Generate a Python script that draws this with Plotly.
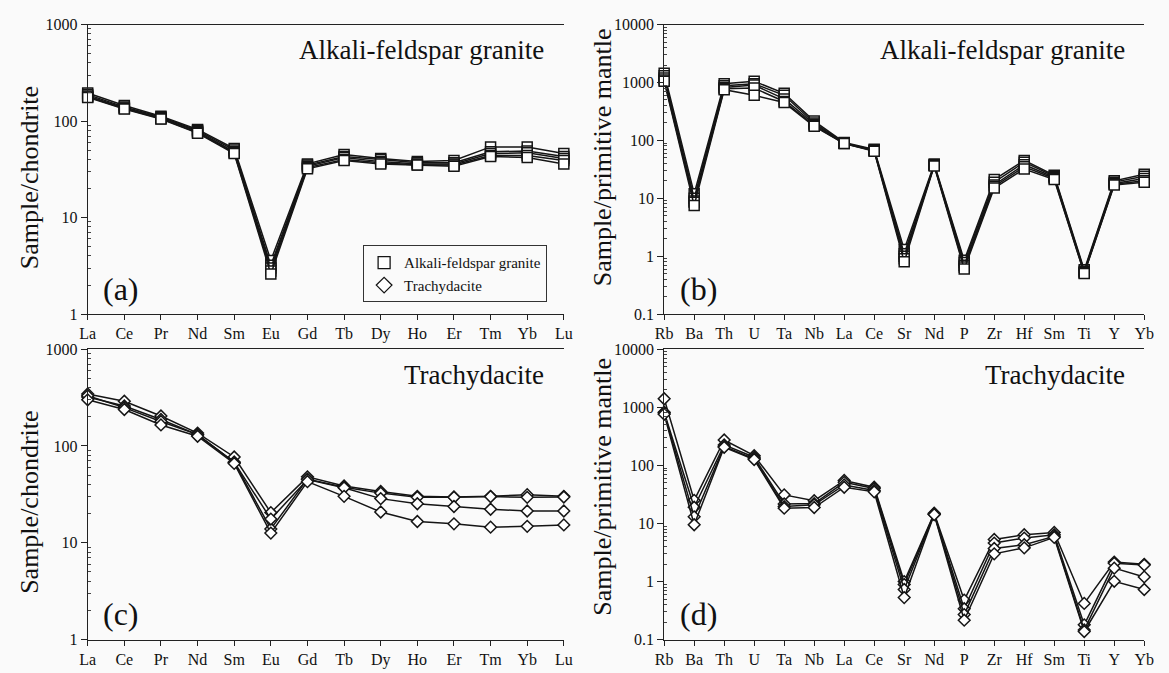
import plotly.graph_objects as go

# ---------------- data ----------------
REE = ["La", "Ce", "Pr", "Nd", "Sm", "Eu", "Gd", "Tb", "Dy", "Ho", "Er", "Tm", "Yb", "Lu"]
SPIDER = ["Rb", "Ba", "Th", "U", "Ta", "Nb", "La", "Ce", "Sr", "Nd", "P", "Zr", "Hf", "Sm", "Ti", "Y", "Yb"]

# (a) Alkali-feldspar granite, chondrite-normalised REE
afg_ree_1 = [195, 145, 112, 82, 52, 3.6, 36, 45, 41, 38, 39, 54, 54, 46]
afg_ree_2 = [188, 140, 110, 80, 50, 3.2, 35, 43, 40, 37, 37, 48, 49, 43]
afg_ree_3 = [182, 137, 108, 78, 48, 3.0, 34, 42, 38, 36, 36, 46, 47, 41]
afg_ree_4 = [178, 135, 106, 76, 47, 2.8, 33, 40, 37, 35, 35, 44, 44, 39]
afg_ree_5 = [176, 133, 105, 75, 46, 2.6, 32, 39, 36, 35, 34, 43, 42, 36]

# (b) Alkali-feldspar granite, primitive-mantle-normalised trace elements
afg_pm_1 = [1450, 12, 950, 1050, 650, 215, 92, 70, 1.3, 39, 0.85, 21, 45, 25, 0.58, 20, 26]
afg_pm_2 = [1300, 10, 880, 950, 600, 200, 90, 68, 1.1, 38, 0.78, 19, 42, 24, 0.55, 19, 24]
afg_pm_3 = [1200, 9, 820, 900, 520, 190, 89, 67, 1.0, 37, 0.70, 17, 38, 23, 0.53, 18, 22]
afg_pm_4 = [1100, 8.5, 780, 800, 470, 180, 88, 66, 0.9, 37, 0.65, 16, 35, 22, 0.51, 17.5, 20]
afg_pm_5 = [1050, 7.5, 750, 600, 450, 175, 88, 65, 0.8, 36, 0.60, 15, 32, 21, 0.50, 17, 19]

# (c) Trachydacite, chondrite-normalised REE
td_ree_1 = [345, 290, 204, 136, 77, 20.5, 48, 38.6, 33.9, 30.2, 29.7, 30.2, 31.4, 30.2]
td_ree_2 = [320, 259, 188, 131, 68, 13.9, 45.5, 37.5, 32.6, 29.5, 29.5, 30.0, 29.5, 29.7]
td_ree_3 = [330, 249, 179, 131, 68, 17.6, 45.0, 37.0, 28.6, 25.3, 23.7, 22.2, 21.3, 21.3]
td_ree_4 = [300, 238, 165, 126, 66, 12.6, 42.8, 30.2, 20.8, 16.6, 15.7, 14.5, 14.8, 15.3]

# (d) Trachydacite, primitive-mantle-normalised trace elements
td_pm_1 = [1400, 25, 273, 147, 31, 24.6, 55, 42, 1.0, 15.0, 0.48, 5.3, 6.4, 7.0, 0.42, 2.16, 1.98]
td_pm_2 = [820, 19, 225, 138, 21.6, 22, 51, 40, 0.89, 14.6, 0.34, 4.6, 5.6, 6.4, 0.18, 2.06, 1.93]
td_pm_3 = [800, 13, 211, 130, 19.5, 20.9, 46, 37, 0.73, 14.4, 0.27, 3.7, 4.3, 6.0, 0.147, 1.70, 1.20]
td_pm_4 = [760, 9.5, 205, 126, 18.3, 18.8, 42, 35, 0.53, 14.2, 0.216, 3.0, 3.8, 5.75, 0.138, 1.01, 0.73]

ree_tickvals = [1, 10, 100, 1000]
ree_ticktext = ["1", "10", "100", "1000"]
pm_tickvals = [0.1, 1, 10, 100, 1000, 10000]
pm_ticktext = ["0.1", "1", "10", "100", "1000", "10000"]

legend_names = ["Alkali-feldspar granite", "Trachydacite"]
panel_titles = ["Alkali-feldspar granite", "Alkali-feldspar granite", "Trachydacite", "Trachydacite"]
panel_labels = ["(a)", "(b)", "(c)", "(d)"]
ytitles = ["Sample/chondrite", "Sample/primitive mantle", "Sample/chondrite", "Sample/primitive mantle"]

# ---------------- styling ----------------
W, H = 1169, 673
FONT = "Liberation Serif, Times New Roman, serif"
LINE = "#151515"
BG = "#fafafa"


def px_x(v):
    return v / W


def px_y(v):
    return 1 - v / H


# panel boxes in pixels (left, right, top, bottom)
boxes = [
    (80, 564, 17, 314),
    (666, 1154, 17, 314),
    (80, 564, 350, 648),
    (666, 1154, 350, 648),
]

fig = go.Figure()

panels = [
    (REE, [afg_ree_1, afg_ree_2, afg_ree_3, afg_ree_4, afg_ree_5], "square", 10),
    (SPIDER, [afg_pm_1, afg_pm_2, afg_pm_3, afg_pm_4, afg_pm_5], "square", 10),
    (REE, [td_ree_1, td_ree_2, td_ree_3, td_ree_4], "diamond", 9),
    (SPIDER, [td_pm_1, td_pm_2, td_pm_3, td_pm_4], "diamond", 9),
]

for i, (cats, series, sym, msize) in enumerate(panels):
    xa = "x" if i == 0 else f"x{i+1}"
    ya = "y" if i == 0 else f"y{i+1}"
    for s in series:
        fig.add_trace(go.Scatter(
            x=cats, y=s, xaxis=xa, yaxis=ya, mode="lines+markers",
            line=dict(color=LINE, width=1.5),
            marker=dict(symbol=sym, size=msize, color="white",
                        line=dict(color=LINE, width=1.5)),
            showlegend=False, hoverinfo="skip", cliponaxis=False,
        ))

# legend-only traces (panel a)
for name, sym in zip(legend_names, ["square", "diamond"]):
    fig.add_trace(go.Scatter(
        x=[None], y=[None], xaxis="x", yaxis="y", mode="markers", name=name,
        marker=dict(symbol=sym, size=12, color="white", line=dict(color=LINE, width=1.3)),
        showlegend=True,
    ))


def minor_vals(lo_exp, hi_exp):
    out = []
    for e in range(lo_exp, hi_exp):
        for k in range(2, 10):
            out.append(k * 10 ** e)
    return out


layout = dict(
    width=W, height=H,
    margin=dict(l=0, r=0, t=0, b=0),
    paper_bgcolor=BG, plot_bgcolor=BG,
    font=dict(family=FONT, size=16, color="#111"),
    showlegend=True,
    legend=dict(
        x=px_x(547), xanchor="right", y=px_y(302), yanchor="bottom",
        bgcolor=BG, bordercolor="#333", borderwidth=1,
        font=dict(family=FONT, size=15, color="#111"),
        itemwidth=30, tracegroupgap=0,
    ),
)

annotations = []
for i, (l, r, t, b) in enumerate(boxes):
    cats = panels[i][0]
    is_pm = i in (1, 3)
    yr = [-1, 4] if is_pm else [0, 3]
    tv = pm_tickvals if is_pm else ree_tickvals
    tt = pm_ticktext if is_pm else ree_ticktext
    mv = minor_vals(-1, 4) if is_pm else minor_vals(0, 3)
    xk = "xaxis" if i == 0 else f"xaxis{i+1}"
    yk = "yaxis" if i == 0 else f"yaxis{i+1}"
    yname = "y" if i == 0 else f"y{i+1}"
    xname = "x" if i == 0 else f"x{i+1}"
    layout[xk] = dict(
        domain=[px_x(l), px_x(r)], anchor=yname, type="category",
        categoryorder="array", categoryarray=cats,
        range=[0, len(cats) - 1],
        showline=True, linecolor="#222", linewidth=1.2, mirror=True,
        ticks="outside", ticklen=5, tickwidth=1, tickcolor="#222",
        showgrid=False, zeroline=False,
        tickfont=dict(family=FONT, size=16, color="#111"),
    )
    layout[yk] = dict(
        domain=[px_y(b), px_y(t)], anchor=xname, type="log", range=yr,
        tickmode="array", tickvals=tv, ticktext=tt,
        showline=True, linecolor="#222", linewidth=1.2,
        ticks="outside", ticklen=6, tickwidth=1, tickcolor="#222",
        minor=dict(tickmode="array", tickvals=mv, ticks="inside", ticklen=3,
                   tickcolor="#444", showgrid=False),
        showgrid=False, zeroline=False,
        tickfont=dict(family=FONT, size=16, color="#111"),
    )
    # right-hand mirror axis with inward ticks
    rk = f"yaxis{i+5}"
    layout[rk] = dict(
        overlaying=yname, side="right", anchor=xname, type="log", range=yr,
        tickmode="array", tickvals=tv, showticklabels=False,
        showline=True, linecolor="#777", linewidth=1.2,
        ticks="inside", ticklen=6, tickwidth=1, tickcolor="#666",
        minor=dict(tickmode="array", tickvals=mv, ticks="inside", ticklen=3,
                   tickcolor="#777", showgrid=False),
        showgrid=False, zeroline=False,
    )

    # panel title (top-right)
    annotations.append(dict(
        text=panel_titles[i], xref="paper", yref="paper",
        x=px_x(r - 18), y=px_y(t + 26), xanchor="right", yanchor="middle",
        showarrow=False, font=dict(family=FONT, size=27, color="#111"),
    ))
    # panel label (bottom-left)
    annotations.append(dict(
        text=panel_labels[i], xref="paper", yref="paper",
        x=px_x(l + 14), y=px_y(b - 26), xanchor="left", yanchor="middle",
        showarrow=False, font=dict(family=FONT, size=32, color="#111"),
    ))

# y-axis titles
ytitle_pos = [(21, 174), (603, 153), (21, 507), (603, 491)]
for (xp, yp), txt in zip(ytitle_pos, ytitles):
    annotations.append(dict(
        text=txt, xref="paper", yref="paper", x=px_x(xp), y=px_y(yp),
        xanchor="center", yanchor="middle", textangle=-90, showarrow=False,
        font=dict(family=FONT, size=26, color="#111"),
    ))

layout["annotations"] = annotations
fig.update_layout(**layout)

fig.write_html("out.html")
